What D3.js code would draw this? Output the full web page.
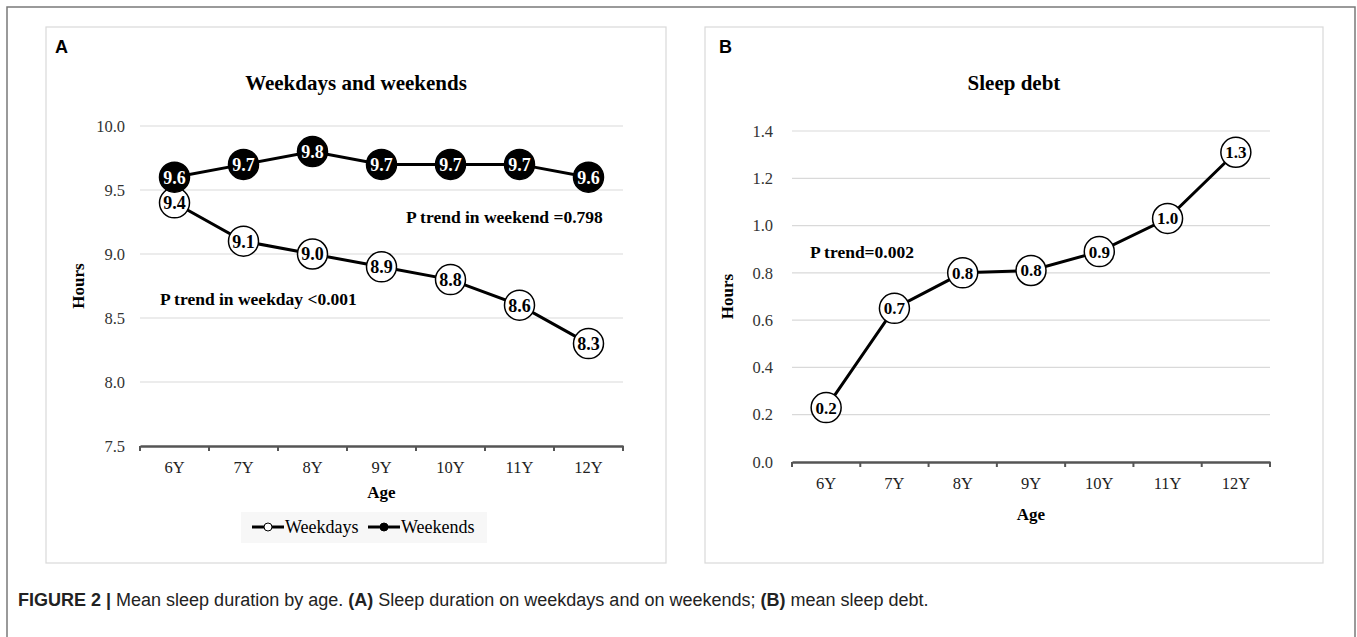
<!DOCTYPE html>
<html>
<head>
<meta charset="utf-8">
<script src="https://cdn.jsdelivr.net/npm/d3@7"></script>
<style>
  html, body { margin: 0; padding: 0; background: #fff; }
  svg { display: block; }
</style>
</head>
<body>
<svg id="chart" width="1357" height="637"></svg>
<script>
// ---------- data ----------
const ages = ["6Y", "7Y", "8Y", "9Y", "10Y", "11Y", "12Y"];
const weekdays = [9.4, 9.1, 9.0, 8.9, 8.8, 8.6, 8.3];
const weekends = [9.6, 9.7, 9.8, 9.7, 9.7, 9.7, 9.6];
const sleepDebt = [0.23, 0.65, 0.80, 0.81, 0.89, 1.03, 1.31];
const sleepDebtLabels = ["0.2", "0.7", "0.8", "0.8", "0.9", "1.0", "1.3"];
const ticksA = [7.5, 8.0, 8.5, 9.0, 9.5, 10.0];
const ticksB = [0.0, 0.2, 0.4, 0.6, 0.8, 1.0, 1.2, 1.4];
const seriesNames = ["Weekdays", "Weekends"];

const serif = "'Liberation Serif', 'Times New Roman', serif";
const sans = "'Liberation Sans', Arial, sans-serif";

const svg = d3.select("#chart");

// outer frame
svg.append("path")
  .attr("d", "M7,640 L7,7 L1355,7 L1355,640")
  .attr("fill", "none").attr("stroke", "#7a7a7a").attr("stroke-width", 1.5);

function panel(opts) {
  const g = svg.append("g");
  // panel box
  g.append("rect")
    .attr("x", opts.box[0]).attr("y", opts.box[1])
    .attr("width", opts.box[2] - opts.box[0]).attr("height", opts.box[3] - opts.box[1])
    .attr("fill", "#fff").attr("stroke", "#d9d9d9").attr("stroke-width", 1.2);
  // panel letter
  g.append("text").attr("x", opts.letterX).attr("y", 53)
    .attr("font-family", sans).attr("font-weight", "bold").attr("font-size", 18)
    .text(opts.letter);
  // title
  g.append("text").attr("x", (opts.box[0] + opts.box[2]) / 2).attr("y", 90)
    .attr("text-anchor", "middle").attr("font-family", serif).attr("font-weight", "bold")
    .attr("font-size", 21).text(opts.title);

  const x = d3.scaleBand().domain(ages).range(opts.xRange);
  const y = d3.scaleLinear().domain(opts.yDomain).range(opts.yRange);

  // gridlines
  g.append("g").selectAll("line").data(opts.ticks.slice(1)).join("line")
    .attr("x1", opts.xRange[0]).attr("x2", opts.xRange[1])
    .attr("y1", d => y(d)).attr("y2", d => y(d))
    .attr("stroke", "#d9d9d9").attr("stroke-width", 1.2);

  // y axis labels
  const ya = g.append("g").attr("transform", `translate(${opts.xRange[0]},0)`)
    .call(d3.axisLeft(y).tickValues(opts.ticks).tickFormat(d3.format(".1f")).tickSize(0).tickPadding(opts.yPad));
  ya.select(".domain").remove();
  ya.selectAll("text").attr("font-family", serif).attr("font-size", 16.5).attr("fill", "#333");

  // x axis
  const xa = g.append("g").attr("transform", `translate(0,${opts.yRange[0]})`)
    .call(d3.axisBottom(x).tickSize(0).tickPadding(15));
  xa.select(".domain").attr("stroke", "#555").attr("stroke-width", 2.5);
  xa.selectAll("text").attr("font-family", serif).attr("font-size", 16.5).attr("fill", "#222");
  const bounds = ages.map(a => x(a)).concat([opts.xRange[1]]);
  xa.append("g").selectAll("line").data(bounds).join("line")
    .attr("x1", d => d).attr("x2", d => d).attr("y1", 0).attr("y2", 5)
    .attr("stroke", "#555").attr("stroke-width", 2);

  // axis titles
  g.append("text").attr("x", (opts.xRange[0] + opts.xRange[1]) / 2).attr("y", opts.ageY)
    .attr("text-anchor", "middle").attr("font-family", serif).attr("font-weight", "bold")
    .attr("font-size", 17).text("Age");
  g.append("text")
    .attr("transform", `translate(${opts.hoursX},${(opts.yRange[0] + opts.yRange[1]) / 2}) rotate(-90)`)
    .attr("text-anchor", "middle").attr("font-family", serif).attr("font-weight", "bold")
    .attr("font-size", 17).text("Hours");

  const line = d3.line().x((d, i) => x(ages[i]) + x.bandwidth() / 2).y(d => y(d));
  opts.series.forEach(s => {
    g.append("path").datum(s.values).attr("d", line)
      .attr("fill", "none").attr("stroke", "#000").attr("stroke-width", 3);
  });
  opts.series.forEach(s => {
    const pts = g.append("g").selectAll("g").data(s.values).join("g")
      .attr("transform", (d, i) => `translate(${x(ages[i]) + x.bandwidth() / 2},${y(d)})`);
    pts.append("circle").attr("r", opts.r)
      .attr("fill", s.filled ? "#000" : "#fff").attr("stroke", "#000").attr("stroke-width", 1.5);
    pts.append("text").attr("text-anchor", "middle").attr("dy", "0.35em")
      .attr("font-family", serif).attr("font-weight", "bold").attr("font-size", opts.labelSize)
      .attr("fill", s.filled ? "#fff" : "#000")
      .text((d, i) => s.labels ? s.labels[i] : d3.format(".1f")(d));
  });
  opts.notes.forEach(n => {
    g.append("text").attr("x", n.x).attr("y", n.y)
      .attr("font-family", serif).attr("font-weight", "bold").attr("font-size", 17.5)
      .text(n.text);
  });
  return g;
}

// Panel A
const gA = panel({
  box: [46, 27, 666, 563], letter: "A", letterX: 55, title: "Weekdays and weekends",
  xRange: [140, 623], yDomain: [7.5, 10.0], yRange: [446, 126], ticks: ticksA, yPad: 15,
  ageY: 498, hoursX: 84, r: 15, labelSize: 18,
  series: [{ values: weekdays, filled: false }, { values: weekends, filled: true }],
  notes: [{ x: 406, y: 223, text: "P trend in weekend =0.798" },
          { x: 160, y: 305, text: "P trend in weekday <0.001" }]
});

// legend
const lg = gA.append("g");
lg.append("rect").attr("x", 241).attr("y", 512).attr("width", 246).attr("height", 31).attr("fill", "#f7f7f7");
const legendItems = lg.selectAll("g").data(seriesNames).join("g")
  .attr("transform", (d, i) => `translate(${i === 0 ? 252 : 368},527)`);
legendItems.append("line").attr("x1", 0).attr("x2", 32).attr("y1", 0).attr("y2", 0)
  .attr("stroke", "#000").attr("stroke-width", 3);
legendItems.append("circle").attr("cx", 16).attr("r", 4)
  .attr("fill", (d, i) => i === 0 ? "#fff" : "#000").attr("stroke", "#000").attr("stroke-width", 1);
legendItems.append("text").attr("x", 33).attr("dy", "0.35em")
  .attr("font-family", serif).attr("font-size", 18).text(d => d);

// Panel B
panel({
  box: [705, 27, 1323, 563], letter: "B", letterX: 719, title: "Sleep debt",
  xRange: [792, 1270], yDomain: [0, 1.4], yRange: [462, 131], ticks: ticksB, yPad: 19,
  ageY: 520, hoursX: 733, r: 15, labelSize: 17,
  series: [{ values: sleepDebt, labels: sleepDebtLabels, filled: false }],
  notes: [{ x: 810, y: 258, text: "P trend=0.002" }]
});

// caption
const cap = svg.append("text").attr("x", 18).attr("y", 606)
  .attr("font-family", sans).attr("font-size", 18).attr("fill", "#222");
[["FIGURE 2 |", true], [" Mean sleep duration by age. ", false], ["(A)", true],
 [" Sleep duration on weekdays and on weekends; ", false], ["(B)", true], [" mean sleep debt.", false]]
  .forEach(([t, b]) => cap.append("tspan").attr("font-weight", b ? "bold" : "normal").text(t));
</script>
</body>
</html>
